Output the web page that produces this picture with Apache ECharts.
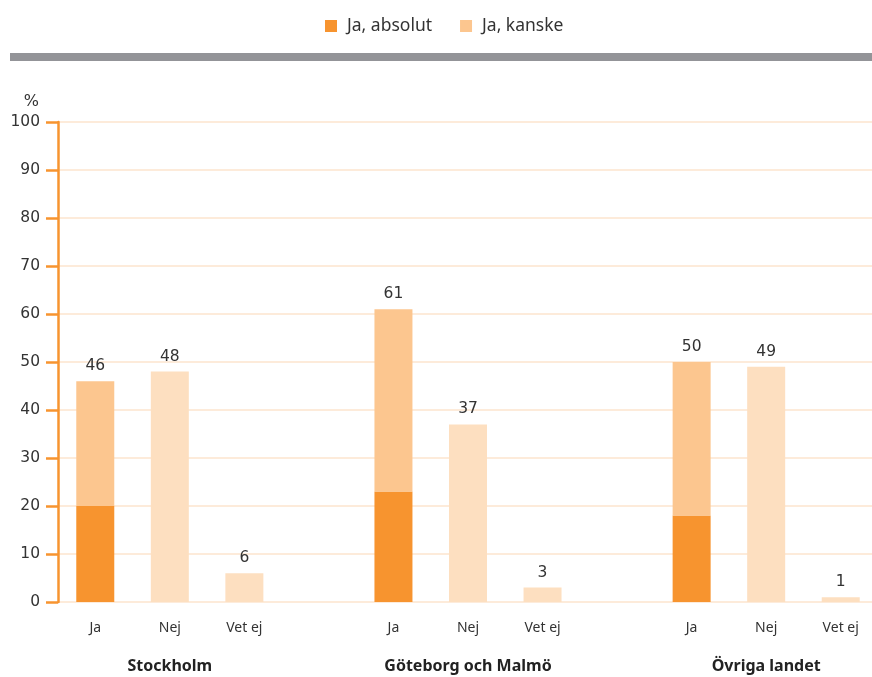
<!DOCTYPE html>
<html>
<head>
<meta charset="utf-8">
<script src="https://cdn.jsdelivr.net/npm/echarts@6/dist/echarts.min.js"></script>
<style>
html,body{margin:0;padding:0;background:#fff;}
#chart{width:872px;height:677px;}
</style>
</head>
<body>
<div id="chart"></div>
<script>
const regions = ['Stockholm', 'Göteborg och Malmö', 'Övriga landet'];
const answers = ['Ja', 'Nej', 'Vet ej'];
const jaAbsolut = [20, 23, 18];
const jaKanske = [26, 38, 32];
const nej = [48, 37, 49];
const vetEj = [6, 3, 1];
const yTicks = [0, 10, 20, 30, 40, 50, 60, 70, 80, 90, 100];

const C_DARK = '#F7942F';
const C_MID = '#FCC68F';
const C_LIGHT = '#FDDFC0';
const FONT = 'Noto Sans';
const NUMFONT = 'DejaVu Sans';

// build 11-slot category layout (3 answers per region + spacer)
const cats = [], groupCats = [], absData = [], kanskeData = [], otherData = [], totals = [];
regions.forEach((r, i) => {
  answers.forEach((a, j) => {
    cats.push(a);
    groupCats.push(j === 1 ? r : '');
    absData.push(j === 0 ? jaAbsolut[i] : null);
    kanskeData.push(j === 0 ? jaKanske[i] : null);
    const o = j === 1 ? nej[i] : (j === 2 ? vetEj[i] : null);
    otherData.push(o);
    totals.push(j === 0 ? jaAbsolut[i] + jaKanske[i] : o);
  });
  if (i < regions.length - 1) {
    cats.push(''); groupCats.push(''); absData.push(null); kanskeData.push(null); otherData.push(null); totals.push(null);
  }
});

const labelCfg = {
  show: true, position: 'top', distance: 7,
  color: '#333', fontSize: 15.5, fontFamily: NUMFONT,
  formatter: p => (totals[p.dataIndex] == null ? '' : String(totals[p.dataIndex]))
};

const chart = echarts.init(document.getElementById('chart'), null, {renderer: 'canvas'});
chart.setOption({
  animation: false,
  textStyle: {fontFamily: FONT},
  graphic: [{
    type: 'rect', left: 10, top: 53,
    shape: {width: 862, height: 8},
    style: {fill: '#939498'}
  }],
  legend: {
    top: 17, left: 325, padding: 0,
    data: ['Ja, absolut', 'Ja, kanske'],
    icon: 'rect', itemWidth: 12, itemHeight: 12, itemGap: 28,
    textStyle: {color: '#333', fontSize: 17.5, fontFamily: FONT, padding: [0, 0, 0, 5]}
  },
  grid: {left: 58, top: 122, width: 820, height: 480, outerBoundsMode: 'none', containLabel: false},
  xAxis: [{
    type: 'category', data: cats,
    axisLine: {show: false}, axisTick: {show: false},
    axisLabel: {interval: 0, color: '#333', fontSize: 14, fontFamily: FONT, margin: 19}
  }, {
    type: 'category', data: groupCats, position: 'bottom', offset: 38,
    axisLine: {show: false}, axisTick: {show: false},
    axisLabel: {interval: 0, color: '#222', fontSize: 16, fontWeight: 'bold', fontFamily: FONT, margin: 18}
  }],
  yAxis: {
    type: 'value', min: yTicks[0], max: yTicks[yTicks.length - 1], interval: 10,
    name: '%', nameLocation: 'end', nameGap: 12,
    nameTextStyle: {color: '#333', fontSize: 16, fontFamily: NUMFONT, align: 'right', padding: [0, 19, 0, 0]},
    axisLine: {show: true, lineStyle: {color: C_DARK, width: 2.5}},
    axisTick: {show: true, length: 12, lineStyle: {color: C_DARK, width: 2.5}},
    axisLabel: {color: '#333', fontSize: 15.5, fontFamily: NUMFONT, margin: 18},
    splitLine: {show: true, lineStyle: {color: '#FDEBDA', width: 2}}
  },
  series: [{
    name: 'Ja, absolut', type: 'bar', stack: 's', data: absData, barWidth: 38,
    itemStyle: {color: C_DARK}
  }, {
    name: 'Ja, kanske', type: 'bar', stack: 's', data: kanskeData, barWidth: 38,
    itemStyle: {color: C_MID}, label: labelCfg
  }, {
    name: 'Övrigt', type: 'bar', stack: 's', data: otherData, barWidth: 38,
    itemStyle: {color: C_LIGHT}, label: labelCfg
  }]
});
</script>
</body>
</html>
